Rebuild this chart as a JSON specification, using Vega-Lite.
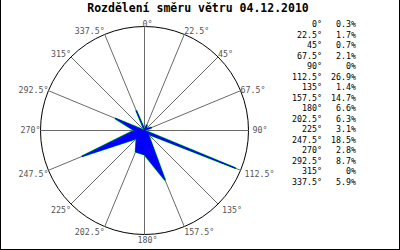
{
  "$schema": "https://vega.github.io/schema/vega-lite/v6.json",
  "width": 400,
  "height": 251,
  "padding": {"top": -1, "left": 0, "right": 0, "bottom": 0},
  "autosize": {"type": "none"},
  "background": "white",
  "config": {
    "view": {"stroke": "black", "strokeWidth": 2},
    "text": {"font": "DejaVu Sans Mono", "fontSize": 8.3}
  },
  "title": {
    "text": "Rozdělení směru větru 04.12.2010",
    "font": "DejaVu Sans Mono",
    "fontWeight": "bold",
    "fontSize": 11.5,
    "color": "black",
    "anchor": "middle",
    "frame": "group",
    "baseline": "top",
    "offset": 0,
    "dy": 15.5,
    "dx": -2
  },
  "data": {
    "values": [
      {"angle": 0, "pct": 0.3},
      {"angle": 22.5, "pct": 1.7},
      {"angle": 45, "pct": 0.7},
      {"angle": 67.5, "pct": 2.1},
      {"angle": 90, "pct": 0},
      {"angle": 112.5, "pct": 26.9},
      {"angle": 135, "pct": 1.4},
      {"angle": 157.5, "pct": 14.7},
      {"angle": 180, "pct": 6.6},
      {"angle": 202.5, "pct": 6.3},
      {"angle": 225, "pct": 3.1},
      {"angle": 247.5, "pct": 18.5},
      {"angle": 270, "pct": 2.8},
      {"angle": 292.5, "pct": 8.7},
      {"angle": 315, "pct": 0},
      {"angle": 337.5, "pct": 5.9}
    ]
  },
  "transform": [
    {"calculate": "datum.angle * PI / 180", "as": "rad"},
    {"calculate": "0", "as": "origin"},
    {"calculate": "104 * sin(datum.rad)", "as": "ex"},
    {"calculate": "104 * cos(datum.rad)", "as": "ey"},
    {"calculate": "3.66 * datum.pct * sin(datum.rad)", "as": "px"},
    {"calculate": "3.66 * datum.pct * cos(datum.rad)", "as": "py"},
    {"calculate": "177.5", "as": "colDir"},
    {"calculate": "211.5", "as": "colPct"},
    {"calculate": "datum.angle + '°'", "as": "dir"},
    {"calculate": "datum.pct + '%'", "as": "share"}
  ],
  "layer": [
    {
      "layer": [
        {
          "data": {"values": [{"cx": 0, "cy": 0}]},
          "mark": {"type": "point", "shape": "circle", "filled": false, "size": 43264, "stroke": "black", "strokeWidth": 1, "opacity": 1},
          "encoding": {
            "x": {"field": "cx", "type": "quantitative", "scale": {"domain": [-144.5, 255.5], "nice": false, "zero": false}, "axis": null},
            "y": {"field": "cy", "type": "quantitative", "scale": {"domain": [-119.5, 131.5], "nice": false, "zero": false}, "axis": null}
          }
        },
        {
          "mark": {"type": "rule", "color": "#6a6a6a", "strokeWidth": 1},
          "encoding": {
            "x": {"field": "origin", "type": "quantitative", "scale": {"domain": [-144.5, 255.5], "nice": false, "zero": false}, "axis": null},
            "y": {"field": "origin", "type": "quantitative", "scale": {"domain": [-119.5, 131.5], "nice": false, "zero": false}, "axis": null},
            "x2": {"field": "ex"},
            "y2": {"field": "ey"}
          }
        },
        {
          "mark": {"type": "line", "interpolate": "linear-closed", "stroke": "#00dd00", "strokeWidth": 2},
          "encoding": {
            "x": {"field": "px", "type": "quantitative", "scale": {"domain": [-144.5, 255.5], "nice": false, "zero": false}, "axis": null},
            "y": {"field": "py", "type": "quantitative", "scale": {"domain": [-119.5, 131.5], "nice": false, "zero": false}, "axis": null},
            "order": {"field": "angle", "type": "quantitative"}
          }
        },
        {
          "mark": {"type": "line", "interpolate": "linear-closed", "fill": "#0000ff", "stroke": "#0000ff", "strokeWidth": 1},
          "encoding": {
            "x": {"field": "px", "type": "quantitative", "scale": {"domain": [-144.5, 255.5], "nice": false, "zero": false}, "axis": null},
            "y": {"field": "py", "type": "quantitative", "scale": {"domain": [-119.5, 131.5], "nice": false, "zero": false}, "axis": null},
            "order": {"field": "angle", "type": "quantitative"}
          }
        },
        {
          "mark": {
            "type": "text",
            "color": "#555555",
            "align": {"expr": "datum.angle == 0 || datum.angle == 180 ? 'center' : (datum.angle < 180 ? 'left' : 'right')"},
            "baseline": {"expr": "(datum.angle < 60 || datum.angle > 300) ? 'alphabetic' : ((datum.angle > 60 && datum.angle < 100) || (datum.angle > 260 && datum.angle < 300) ? 'middle' : 'top')"},
            "dx": {"expr": "datum.angle == 0 || datum.angle == 180 ? 3 : ((datum.angle > 80 && datum.angle < 140) ? 4 : 0)"},
            "dy": {"expr": "(datum.angle > 120 && datum.angle < 240) ? 1.5 : 0"}
          },
          "encoding": {
            "x": {"field": "ex", "type": "quantitative", "scale": {"domain": [-144.5, 255.5], "nice": false, "zero": false}, "axis": null},
            "y": {"field": "ey", "type": "quantitative", "scale": {"domain": [-119.5, 131.5], "nice": false, "zero": false}, "axis": null},
            "text": {"field": "dir"}
          }
        }
      ]
    },
    {
      "layer": [
        {
          "mark": {"type": "text", "color": "black", "align": "right", "baseline": "middle"},
          "encoding": {
            "x": {"field": "colDir", "type": "quantitative", "scale": {"domain": [-144.5, 255.5], "nice": false, "zero": false}, "axis": null},
            "y": {"field": "angle", "type": "ordinal", "scale": {"type": "point", "range": [26, 184], "padding": 0}, "axis": null},
            "text": {"field": "dir"}
          }
        },
        {
          "mark": {"type": "text", "color": "black", "align": "right", "baseline": "middle"},
          "encoding": {
            "x": {"field": "colPct", "type": "quantitative", "scale": {"domain": [-144.5, 255.5], "nice": false, "zero": false}, "axis": null},
            "y": {"field": "angle", "type": "ordinal", "scale": {"type": "point", "range": [26, 184], "padding": 0}, "axis": null},
            "text": {"field": "share"}
          }
        }
      ]
    }
  ],
  "resolve": {"scale": {"y": "independent"}}
}
